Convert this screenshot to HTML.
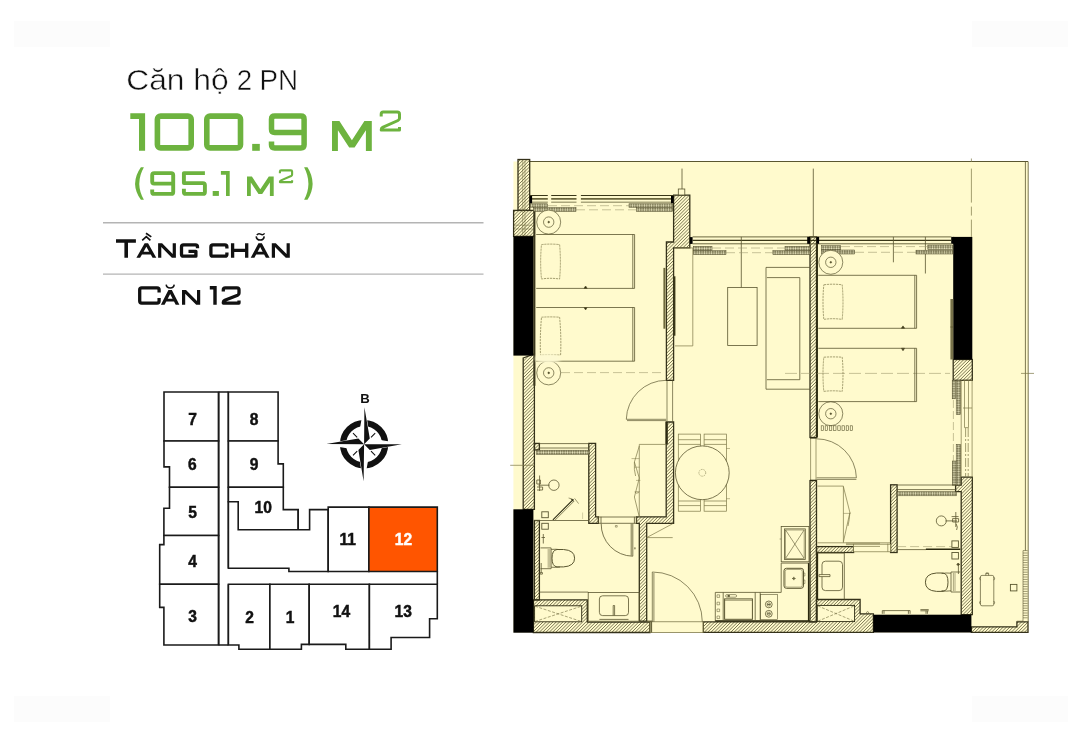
<!DOCTYPE html>
<html lang="vi">
<head>
<meta charset="utf-8">
<title>Căn hộ 2 PN - Căn 12</title>
<style>
html,body{margin:0;padding:0;background:#fff;}
body{width:1080px;height:743px;overflow:hidden;position:relative;font-family:"Liberation Sans",sans-serif;}
svg{position:absolute;left:0;top:0;display:block;will-change:transform;}
.kp{fill:#fff;stroke:#1a1a1a;stroke-width:1.6;stroke-linejoin:miter;}
.kn{font-family:"Liberation Sans",sans-serif;font-weight:bold;font-size:15.6px;fill:#111;stroke:#111;stroke-width:0.45px;text-anchor:middle;}
.g1{fill:none;stroke:#6db33f;stroke-width:6.3;stroke-linejoin:round;stroke-linecap:butt;}
.g2{fill:none;stroke:#6db33f;stroke-width:4.3;stroke-linejoin:round;stroke-linecap:butt;}
.bk{fill:none;stroke:#111;stroke-width:2.5;stroke-linejoin:round;stroke-linecap:butt;}
.ln{stroke:#5a5630;stroke-width:0.8;fill:none;}
.lt{stroke:#7c7748;stroke-width:0.7;fill:none;}
.wl{fill:url(#hatch);stroke:#2b2910;stroke-width:1;}
.blk{fill:#000;stroke:none;}
.yl{fill:#fffacd;}
</style>
</head>
<body>
<svg width="1080" height="743" viewBox="0 0 1080 743">
<defs>
<pattern id="hatch" width="2.6" height="2.6" patternUnits="userSpaceOnUse">
<rect width="2.6" height="2.6" fill="#fffacd"/>
<path d="M-0.65,0.65 L0.65,-0.65 M0,2.6 L2.6,0 M1.95,3.25 L3.25,1.95" stroke="#4e4a28" stroke-width="0.7"/>
</pattern>
<pattern id="stip" width="2.4" height="2.4" patternUnits="userSpaceOnUse">
<rect width="2.4" height="2.4" fill="#6a6642"/>
<circle cx="1.2" cy="1.2" r="0.92" fill="#f2eec9"/>
</pattern>
<filter id="blurf" x="-30%" y="-80%" width="160%" height="260%"><feGaussianBlur stdDeviation="1.6"/></filter>
</defs>

<g id="wm" fill="#fcfcfc"><rect x="14" y="21" width="96" height="26"/><rect x="972" y="21" width="96" height="26"/><rect x="14" y="696" width="96" height="26"/><rect x="972" y="696" width="96" height="26"/></g>
<!-- ============ TEXT BLOCK ============ -->
<g id="title" font-family="Liberation Sans, sans-serif" font-size="30.2" fill="#111" stroke="#fff" stroke-width="0.5">
<text x="126.3" y="90.1" textLength="58.2" lengthAdjust="spacingAndGlyphs">Căn</text>
<text x="193.3" y="90.1" textLength="35.4" lengthAdjust="spacingAndGlyphs">hộ</text>
<text x="236.8" y="90.1" textLength="15.4" lengthAdjust="spacingAndGlyphs">2</text>
<text x="259.4" y="90.1" textLength="38.6" lengthAdjust="spacingAndGlyphs">PN</text>
</g>
<line x1="103" y1="222.7" x2="483.5" y2="222.7" stroke="#b4b4b4" stroke-width="1.4"/>
<line x1="103" y1="274.1" x2="483.5" y2="274.1" stroke="#b4b4b4" stroke-width="1.4"/>

<!-- big number 100.9 m2 -->
<g id="bignum">
<path d="M130.3,113.3 H145.1 V150.8 H139 V118.9 H130.3 Z" fill="#6db33f"/>
<rect class="g1" x="157.4" y="116.1" width="33.8" height="31.8" rx="3.2" style="stroke-width:5.6"/>
<rect class="g1" x="206.8" y="116.1" width="33.7" height="31.8" rx="3.2" style="stroke-width:5.6"/>
<rect x="252.2" y="143.9" width="7.6" height="6.9" fill="#6db33f"/>
<path class="g1" style="stroke-width:5.5" d="M304.1,132.5 H274.7 Q271.5,132.5 271.5,129.3 V119.3 Q271.5,116.1 274.7,116.1 H300.9 Q304.1,116.1 304.1,119.3 V144.7 Q304.1,147.9 300.9,147.9 H274.7 Q271.5,147.9 271.5,144.7 V141.6"/>
<path d="M332,150.9 V121 H339.4 L351.9,140.3 L364.4,121 H371.8 V150.9 H365.9 V130.2 L354.6,147.6 H349.2 L337.9,130.2 V150.9 Z" fill="#6db33f"/>
<path class="g1" style="stroke-width:3" d="M381.2,116.6 V114.1 Q381.2,112.1 383.2,112.1 H397.3 Q399.5,112.1 399.5,114.3 V118.2 Q399.5,119.8 398,120.5 L382.6,127.3 Q381.2,127.9 381.2,129.9 H399.5 V127"/>
</g>
<!-- (95.1 m2) -->
<g id="subnum">
<path d="M140.9,167.2 Q129.3,183.5 140.9,199.8 L143.9,199.8 Q134.7,183.5 143.9,167.2 Z" fill="#6db33f"/>
<path class="g2" style="stroke-width:3.9" d="M173.2,183.6 H154.2 Q152.2,183.6 152.2,181.6 V175.1 Q152.2,173.1 154.2,173.1 H171.2 Q173.2,173.1 173.2,175.1 V191.9 Q173.2,193.9 171.2,193.9 H154.2 Q152.2,193.9 152.2,191.9 V189.6"/>
<path class="g2" style="stroke-width:3.9" d="M204.9,173.1 H183.9 V183.1 H202.9 Q204.9,183.1 204.9,185.1 V191.9 Q204.9,193.9 202.9,193.9 H185.9 Q183.9,193.9 183.9,191.9 V188.7"/>
<rect x="212.7" y="191" width="6.2" height="4.9" fill="#6db33f"/>
<path d="M220.9,171.1 H229.7 V195.9 H226 V174.8 H220.9 Z" fill="#6db33f"/>
<path d="M247,195.9 V176.5 H251.9 L260.3,189.3 L268.8,176.5 H273.7 V195.9 H269.9 V182.4 L262.2,194 H258.5 L250.8,182.4 V195.9 Z" fill="#6db33f"/>
<path class="g2" style="stroke-width:2.1" d="M279.9,173.2 V171.6 Q279.9,170.4 281.1,170.4 H290.9 Q292.1,170.4 292.1,171.6 V174.4 Q292.1,175.5 291.1,176 L281,180.4 Q279.9,180.9 279.9,182.1 H292.1 V180.2"/>
<path d="M307.5,167.2 Q317.7,183.5 307.5,199.8 L304.1,199.8 Q312.7,183.5 304.1,167.2 Z" fill="#6db33f"/>
</g>

<!-- TANG CHAN -->
<g id="tang" class="bk" style="stroke-width:3.3;stroke-linejoin:miter">
<path d="M116,241 H135.9 M126.2,241 V257.8" style="stroke-width:3.6"/>
<path d="M136.40,257.80 L144.65,243.30 L148.05,243.30 L156.30,257.80 L152.60,257.80 L150.73,254.50 L141.97,254.50 L140.10,257.80 Z M143.57,251.70 L146.35,246.81 L149.13,251.70 Z" fill="#111" fill-rule="evenodd" stroke="none"/>
<path d="M142.2,240.3 L146.3,236.6 L150.4,240.3" style="stroke-width:1.7"/>
<path d="M146,233.3 L151.3,236.9" style="stroke-width:1.7"/>
<path d="M158.10,257.80 L158.10,243.30 L162.10,243.30 L172.70,254.00 L172.70,243.30 L175.90,243.30 L175.90,257.80 L171.90,257.80 L161.30,247.10 L161.30,257.80 Z" fill="#111" stroke="none"/>
<path d="M197.5,248.3 V246.9 Q197.5,244.9 195.5,244.9 H183.5 Q181.5,244.9 181.5,246.9 V254.2 Q181.5,256.2 183.5,256.2 H195.9 V251.3 H188.5" style="stroke-linejoin:round"/>
<path d="M226.9,248.6 V246.9 Q226.9,244.9 224.9,244.9 H212.9 Q210.9,244.9 210.9,246.9 V254.2 Q210.9,256.2 212.9,256.2 H224.9 Q226.9,256.2 226.9,254.2 V252.5" style="stroke-linejoin:round"/>
<path d="M232.6,243.3 V257.8 M246.7,243.3 V257.8 M232.6,250.3 H246.7"/>
<path d="M250.70,257.80 L258.45,243.30 L261.85,243.30 L269.60,257.80 L265.90,257.80 L264.14,254.50 L256.16,254.50 L254.40,257.80 Z M257.66,251.70 L260.15,247.03 L262.64,251.70 Z" fill="#111" fill-rule="evenodd" stroke="none"/>
<path d="M256.2,236.3 Q256.6,240 260.2,240 Q263.8,240 264.2,236.3" style="stroke-width:1.6"/>
<path d="M256.8,235 Q258.5,232.8 260.6,234.2 Q262.8,235.6 264.6,233.4" style="stroke-width:1.4"/>
<path d="M271.80,257.80 L271.80,243.30 L275.80,243.30 L286.60,254.00 L286.60,243.30 L289.80,243.30 L289.80,257.80 L285.80,257.80 L275.00,247.10 L275.00,257.80 Z" fill="#111" stroke="none"/>
</g>
<!-- CAN 12 -->
<g id="can12" class="bk" style="stroke-width:3.3;stroke-linejoin:miter">
<path d="M159.1,292.6 V289.8 Q159.1,287.8 157.1,287.8 H141.7 Q139.7,287.8 139.7,289.8 V301.1 Q139.7,303.1 141.7,303.1 H157.1 Q159.1,303.1 159.1,301.1 V298" style="stroke-linejoin:round"/>
<path d="M160.90,304.80 L168.45,290.00 L171.85,290.00 L179.40,304.80 L175.70,304.80 L174.02,301.50 L166.28,301.50 L164.60,304.80 Z M167.71,298.70 L170.15,293.91 L172.59,298.70 Z" fill="#111" fill-rule="evenodd" stroke="none"/>
<path d="M166.2,284.6 Q166.6,288 170.2,288 Q173.8,288 174.2,284.6" style="stroke-width:1.6"/>
<path d="M182.00,304.80 L182.00,290.00 L186.00,290.00 L197.00,301.00 L197.00,290.00 L200.20,290.00 L200.20,304.80 L196.20,304.80 L185.20,293.80 L185.20,304.80 Z" fill="#111" stroke="none"/>
<path d="M209.8,287.8 H215 V304.8" style="stroke-width:3.4"/>
<path d="M223.3,291.6 V289.8 Q223.3,287.8 225.3,287.8 H237 Q239,287.8 239,289.8 V293.2 Q239,294.6 237.6,295.2 L224.8,300.2 Q223.3,300.8 223.3,303.1 H239 V300.5" style="stroke-linejoin:round"/>
</g>

<g id="keyplan">
<!-- left column units -->
<path class="kp" d="M164,392 H218.6 V441 H164 Z"/>
<path class="kp" d="M164,441 H218.6 V487.3 H169.5 V466.9 H164 Z"/>
<path class="kp" d="M169.5,487.3 H218.6 V535.5 H163.9 V508.2 H169.5 Z"/>
<path class="kp" d="M163.9,535.5 H218.6 V584.2 H159.7 V544.6 H163.9 Z"/>
<path class="kp" d="M159.7,584.2 H218.6 V645 H163.9 V607.4 H159.7 Z"/>
<!-- corridor vertical -->
<path class="kp" d="M218.6,392 H228.4 M218.6,392 V645 M228.4,392 V568.3 M228.4,584.2 V645 M218.6,645 H228.4" style="fill:none"/>
<!-- 8, 9 -->
<path class="kp" d="M228.4,392 H278.1 V441 H228.4 Z"/>
<path class="kp" d="M228.4,441 H278.1 V463.9 H283.3 V487.3 H228.4 Z"/>
<!-- 10 + courtyard -->
<path class="kp" d="M228.4,487.3 H283.3 V509.6 H298.2 V529.7 H238.2 V501.8 H228.4 Z"/>
<path class="kp" d="M228.4,501.8 H238.2 V529.7 H309.6 V509.6 H328.2 V571.5 H288.9 V568.3 H228.4 Z"/>
<path class="kp" d="M298.2,509.6 V529.7" />
<!-- 11, 12 -->
<path class="kp" d="M328.2,507.1 H368.9 V571.5 H328.2 Z"/>
<path class="kp" d="M368.9,507.1 H437.3 V571.5 H368.9 Z" style="fill:#ff5500"/>
<!-- horizontal corridor -->
<path class="kp" d="M437.3,571.5 V584.2" />
<!-- bottom row -->
<path class="kp" d="M228.4,584.2 H269.9 V649.2 H238.9 V645 H228.4 Z"/>
<path class="kp" d="M269.9,584.2 H309.2 V644.4 H301.4 V649.2 H269.9 Z"/>
<path class="kp" d="M309.2,584.2 H369.4 V649.2 H345.8 V644.4 H309.2 Z"/>
<path class="kp" d="M369.4,584.2 H437.3 V618.8 H429.6 V637.5 H391.1 V649.2 H369.4 Z"/>
<g class="kn">
<text x="192.6" y="424.6">7</text><text x="254.2" y="424.6">8</text>
<text x="192.4" y="470.4">6</text><text x="254.2" y="470.4">9</text>
<text x="192.6" y="517.8">5</text><text x="263.3" y="513.3">10</text>
<text x="192.6" y="567">4</text><text x="192.6" y="622.4">3</text>
<text x="249.5" y="622.8">2</text><text x="290" y="622.8">1</text>
<text x="341.4" y="617.3">14</text><text x="403.3" y="617.3">13</text>
<text x="347.7" y="544.6">11</text><text x="403.5" y="544.6" fill="#fff" stroke="#fff">12</text>
</g>
</g>
<g id="compass">
<circle cx="364.1" cy="444.2" r="21.1" fill="none" stroke="#111" stroke-width="6.2"/>
<path d="M371,437.3 L375.2,433.1 M371,451.1 L375.2,455.3 M357.2,451.1 L353,455.3 M357.2,437.3 L353,433.1" stroke="#111" stroke-width="1.1"/>
<path d="M364.4,407.2 L369.5,438.8 L401.8,444.2 L369.5,449.6 L363.6,481.2 L358.7,449.6 L326.4,444.1 L358.7,438.8 Z" fill="#fff" stroke="#fff" stroke-width="1.3" stroke-linejoin="miter"/>
<path d="M364.4,407.2 L369.8,438.6 L364.1,444.2 Z M401.8,444.2 L369.8,449.9 L364.1,444.2 Z M363.6,481.2 L358.4,449.9 L364.1,444.2 Z M326.4,444.1 L358.4,438.6 L364.1,444.2 Z" fill="#111"/>
<text x="365" y="403.2" font-family="Liberation Sans, sans-serif" font-weight="bold" font-size="13.2" text-anchor="middle" fill="#111">B</text>
</g>

<g id="floorplan">
<!-- base -->
<rect class="yl" x="513.4" y="161.5" width="515" height="471"/>
<path d="M529.7,161.5 H1028" stroke="#5a5630" stroke-width="1"/>
<path d="M1028.2,161.5 V621.8 M1025.4,162 V550.6" stroke="#5a5630" stroke-width="0.8" fill="none"/>
<clipPath id="wallclip"><rect x="518" y="159.5" width="11.7" height="50.9"/>
<rect x="513.6" y="210.4" width="20.8" height="26"/>
<path d="M523.2,358 L534.4,354 V509.3 H523.2 Z"/>
<rect x="534.4" y="520.5" width="5" height="79.4"/>
<path d="M533.4,599.9 H587.3 V622.1 H650 V632.5 H533.4 Z"/>
<path d="M588.8,443.4 H595.6 V516.8 H598.4 V523.3 H588.8 Z"/>
<rect x="534.4" y="443.4" width="5" height="6.5"/>
<path d="M666.2,422 H673.6 V523.3 H646.7 V621.2 H639.3 V523.3 H636.5 V516.8 H666.2 Z"/>
<path d="M673.6,195.1 H689.8 V247.9 H673.6 V380.3 H666.4 V242 H673.6 Z"/>
<rect x="810" y="236.9" width="6.5" height="200.6"/>
<rect x="810" y="480.6" width="6.5" height="141.2"/>
<rect x="953.2" y="359.5" width="19.1" height="20.8"/>
<path d="M961.2,477.2 H972.3 V614.7 H961.2 V491.7 H955.6 V485.2 H961.2 Z"/>
<rect x="890.6" y="484.8" width="6.5" height="67.7"/>
<rect x="816.5" y="546.6" width="37.1" height="5.9"/>
<path d="M816.5,599.5 H860.1 V613.8 H873.4 V632.3 H703.2 V621.8 H816.5 Z"/>
<path d="M971.4,626.8 H1016.9 V621.8 H1028 V632.3 H971.4 Z"/></clipPath>
<g fill="#fffacd" stroke="none"><rect x="518" y="159.5" width="11.7" height="50.9"/>
<rect x="513.6" y="210.4" width="20.8" height="26"/>
<path d="M523.2,358 L534.4,354 V509.3 H523.2 Z"/>
<rect x="534.4" y="520.5" width="5" height="79.4"/>
<path d="M533.4,599.9 H587.3 V622.1 H650 V632.5 H533.4 Z"/>
<path d="M588.8,443.4 H595.6 V516.8 H598.4 V523.3 H588.8 Z"/>
<rect x="534.4" y="443.4" width="5" height="6.5"/>
<path d="M666.2,422 H673.6 V523.3 H646.7 V621.2 H639.3 V523.3 H636.5 V516.8 H666.2 Z"/>
<path d="M673.6,195.1 H689.8 V247.9 H673.6 V380.3 H666.4 V242 H673.6 Z"/>
<rect x="810" y="236.9" width="6.5" height="200.6"/>
<rect x="810" y="480.6" width="6.5" height="141.2"/>
<rect x="953.2" y="359.5" width="19.1" height="20.8"/>
<path d="M961.2,477.2 H972.3 V614.7 H961.2 V491.7 H955.6 V485.2 H961.2 Z"/>
<rect x="890.6" y="484.8" width="6.5" height="67.7"/>
<rect x="816.5" y="546.6" width="37.1" height="5.9"/>
<path d="M816.5,599.5 H860.1 V613.8 H873.4 V632.3 H703.2 V621.8 H816.5 Z"/>
<path d="M971.4,626.8 H1016.9 V621.8 H1028 V632.3 H971.4 Z"/></g>
<path clip-path="url(#wallclip)" d="M512.0,161.3L515.3,158.0M512.0,164.6L518.6,158.0M512.0,167.9L521.9,158.0M512.0,171.2L525.2,158.0M512.0,174.5L528.5,158.0M512.0,177.8L531.8,158.0M512.0,181.1L535.1,158.0M512.0,184.4L538.4,158.0M512.0,187.7L541.7,158.0M512.0,191.0L545.0,158.0M512.0,194.3L548.3,158.0M512.0,197.6L551.6,158.0M512.0,200.9L554.9,158.0M512.0,204.2L558.2,158.0M512.0,207.5L561.5,158.0M512.0,210.8L564.8,158.0M512.0,214.1L568.1,158.0M512.0,217.4L571.4,158.0M512.0,220.7L574.7,158.0M512.0,224.0L578.0,158.0M512.0,227.3L581.3,158.0M512.0,230.6L584.6,158.0M512.0,233.9L587.9,158.0M512.0,237.2L591.2,158.0M512.0,240.5L594.5,158.0M512.0,243.8L597.8,158.0M512.0,247.1L601.1,158.0M512.0,250.4L604.4,158.0M512.0,253.7L607.7,158.0M512.0,257.0L611.0,158.0M512.0,260.3L614.3,158.0M512.0,263.6L617.6,158.0M512.0,266.9L620.9,158.0M512.0,270.2L624.2,158.0M512.0,273.5L627.5,158.0M512.0,276.8L630.8,158.0M512.0,280.1L634.1,158.0M512.0,283.4L637.4,158.0M512.0,286.7L640.7,158.0M512.0,290.0L644.0,158.0M512.0,293.3L647.3,158.0M512.0,296.6L650.6,158.0M512.0,299.9L653.9,158.0M512.0,303.2L657.2,158.0M512.0,306.5L660.5,158.0M512.0,309.8L663.8,158.0M512.0,313.1L667.1,158.0M512.0,316.4L670.4,158.0M512.0,319.7L673.7,158.0M512.0,323.0L677.0,158.0M512.0,326.3L680.3,158.0M512.0,329.6L683.6,158.0M512.0,332.9L686.9,158.0M512.0,336.2L690.2,158.0M512.0,339.5L693.5,158.0M512.0,342.8L696.8,158.0M512.0,346.1L700.1,158.0M512.0,349.4L703.4,158.0M512.0,352.7L706.7,158.0M512.0,356.0L710.0,158.0M512.0,359.3L713.3,158.0M512.0,362.6L716.6,158.0M512.0,365.9L719.9,158.0M512.0,369.2L723.2,158.0M512.0,372.5L726.5,158.0M512.0,375.8L729.8,158.0M512.0,379.1L733.1,158.0M512.0,382.4L736.4,158.0M512.0,385.7L739.7,158.0M512.0,389.0L743.0,158.0M512.0,392.3L746.3,158.0M512.0,395.6L749.6,158.0M512.0,398.9L752.9,158.0M512.0,402.2L756.2,158.0M512.0,405.5L759.5,158.0M512.0,408.8L762.8,158.0M512.0,412.1L766.1,158.0M512.0,415.4L769.4,158.0M512.0,418.7L772.7,158.0M512.0,422.0L776.0,158.0M512.0,425.3L779.3,158.0M512.0,428.6L782.6,158.0M512.0,431.9L785.9,158.0M512.0,435.2L789.2,158.0M512.0,438.5L792.5,158.0M512.0,441.8L795.8,158.0M512.0,445.1L799.1,158.0M512.0,448.4L802.4,158.0M512.0,451.7L805.7,158.0M512.0,455.0L809.0,158.0M512.0,458.3L812.3,158.0M512.0,461.6L815.6,158.0M512.0,464.9L818.9,158.0M512.0,468.2L822.2,158.0M512.0,471.5L825.5,158.0M512.0,474.8L828.8,158.0M512.0,478.1L832.1,158.0M512.0,481.4L835.4,158.0M512.0,484.7L838.7,158.0M512.0,488.0L842.0,158.0M512.0,491.3L845.3,158.0M512.0,494.6L848.6,158.0M512.0,497.9L851.9,158.0M512.0,501.2L855.2,158.0M512.0,504.5L858.5,158.0M512.0,507.8L861.8,158.0M512.0,511.1L865.1,158.0M512.0,514.4L868.4,158.0M512.0,517.7L871.7,158.0M512.0,521.0L875.0,158.0M512.0,524.3L878.3,158.0M512.0,527.6L881.6,158.0M512.0,530.9L884.9,158.0M512.0,534.2L888.2,158.0M512.0,537.5L891.5,158.0M512.0,540.8L894.8,158.0M512.0,544.1L898.1,158.0M512.0,547.4L901.4,158.0M512.0,550.7L904.7,158.0M512.0,554.0L908.0,158.0M512.0,557.3L911.3,158.0M512.0,560.6L914.6,158.0M512.0,563.9L917.9,158.0M512.0,567.2L921.2,158.0M512.0,570.5L924.5,158.0M512.0,573.8L927.8,158.0M512.0,577.1L931.1,158.0M512.0,580.4L934.4,158.0M512.0,583.7L937.7,158.0M512.0,587.0L941.0,158.0M512.0,590.3L944.3,158.0M512.0,593.6L947.6,158.0M512.0,596.9L950.9,158.0M512.0,600.2L954.2,158.0M512.0,603.5L957.5,158.0M512.0,606.8L960.8,158.0M512.0,610.1L964.1,158.0M512.0,613.4L967.4,158.0M512.0,616.7L970.7,158.0M512.0,620.0L974.0,158.0M512.0,623.3L977.3,158.0M512.0,626.6L980.6,158.0M512.0,629.9L983.9,158.0M512.0,633.2L987.2,158.0M514.5,634.0L990.5,158.0M517.8,634.0L993.8,158.0M521.1,634.0L997.1,158.0M524.4,634.0L1000.4,158.0M527.7,634.0L1003.7,158.0M531.0,634.0L1007.0,158.0M534.3,634.0L1010.3,158.0M537.6,634.0L1013.6,158.0M540.9,634.0L1016.9,158.0M544.2,634.0L1020.2,158.0M547.5,634.0L1023.5,158.0M550.8,634.0L1026.8,158.0M554.1,634.0L1030.0,158.1M557.4,634.0L1030.0,161.4M560.7,634.0L1030.0,164.7M564.0,634.0L1030.0,168.0M567.3,634.0L1030.0,171.3M570.6,634.0L1030.0,174.6M573.9,634.0L1030.0,177.9M577.2,634.0L1030.0,181.2M580.5,634.0L1030.0,184.5M583.8,634.0L1030.0,187.8M587.1,634.0L1030.0,191.1M590.4,634.0L1030.0,194.4M593.7,634.0L1030.0,197.7M597.0,634.0L1030.0,201.0M600.3,634.0L1030.0,204.3M603.6,634.0L1030.0,207.6M606.9,634.0L1030.0,210.9M610.2,634.0L1030.0,214.2M613.5,634.0L1030.0,217.5M616.8,634.0L1030.0,220.8M620.1,634.0L1030.0,224.1M623.4,634.0L1030.0,227.4M626.7,634.0L1030.0,230.7M630.0,634.0L1030.0,234.0M633.3,634.0L1030.0,237.3M636.6,634.0L1030.0,240.6M639.9,634.0L1030.0,243.9M643.2,634.0L1030.0,247.2M646.5,634.0L1030.0,250.5M649.8,634.0L1030.0,253.8M653.1,634.0L1030.0,257.1M656.4,634.0L1030.0,260.4M659.7,634.0L1030.0,263.7M663.0,634.0L1030.0,267.0M666.3,634.0L1030.0,270.3M669.6,634.0L1030.0,273.6M672.9,634.0L1030.0,276.9M676.2,634.0L1030.0,280.2M679.5,634.0L1030.0,283.5M682.8,634.0L1030.0,286.8M686.1,634.0L1030.0,290.1M689.4,634.0L1030.0,293.4M692.7,634.0L1030.0,296.7M696.0,634.0L1030.0,300.0M699.3,634.0L1030.0,303.3M702.6,634.0L1030.0,306.6M705.9,634.0L1030.0,309.9M709.2,634.0L1030.0,313.2M712.5,634.0L1030.0,316.5M715.8,634.0L1030.0,319.8M719.1,634.0L1030.0,323.1M722.4,634.0L1030.0,326.4M725.7,634.0L1030.0,329.7M729.0,634.0L1030.0,333.0M732.3,634.0L1030.0,336.3M735.6,634.0L1030.0,339.6M738.9,634.0L1030.0,342.9M742.2,634.0L1030.0,346.2M745.5,634.0L1030.0,349.5M748.8,634.0L1030.0,352.8M752.1,634.0L1030.0,356.1M755.4,634.0L1030.0,359.4M758.7,634.0L1030.0,362.7M762.0,634.0L1030.0,366.0M765.3,634.0L1030.0,369.3M768.6,634.0L1030.0,372.6M771.9,634.0L1030.0,375.9M775.2,634.0L1030.0,379.2M778.5,634.0L1030.0,382.5M781.8,634.0L1030.0,385.8M785.1,634.0L1030.0,389.1M788.4,634.0L1030.0,392.4M791.7,634.0L1030.0,395.7M795.0,634.0L1030.0,399.0M798.3,634.0L1030.0,402.3M801.6,634.0L1030.0,405.6M804.9,634.0L1030.0,408.9M808.2,634.0L1030.0,412.2M811.5,634.0L1030.0,415.5M814.8,634.0L1030.0,418.8M818.1,634.0L1030.0,422.1M821.4,634.0L1030.0,425.4M824.7,634.0L1030.0,428.7M828.0,634.0L1030.0,432.0M831.3,634.0L1030.0,435.3M834.6,634.0L1030.0,438.6M837.9,634.0L1030.0,441.9M841.2,634.0L1030.0,445.2M844.5,634.0L1030.0,448.5M847.8,634.0L1030.0,451.8M851.1,634.0L1030.0,455.1M854.4,634.0L1030.0,458.4M857.7,634.0L1030.0,461.7M861.0,634.0L1030.0,465.0M864.3,634.0L1030.0,468.3M867.6,634.0L1030.0,471.6M870.9,634.0L1030.0,474.9M874.2,634.0L1030.0,478.2M877.5,634.0L1030.0,481.5M880.8,634.0L1030.0,484.8M884.1,634.0L1030.0,488.1M887.4,634.0L1030.0,491.4M890.7,634.0L1030.0,494.7M894.0,634.0L1030.0,498.0M897.3,634.0L1030.0,501.3M900.6,634.0L1030.0,504.6M903.9,634.0L1030.0,507.9M907.2,634.0L1030.0,511.2M910.5,634.0L1030.0,514.5M913.8,634.0L1030.0,517.8M917.1,634.0L1030.0,521.1M920.4,634.0L1030.0,524.4M923.7,634.0L1030.0,527.7M927.0,634.0L1030.0,531.0M930.3,634.0L1030.0,534.3M933.6,634.0L1030.0,537.6M936.9,634.0L1030.0,540.9M940.2,634.0L1030.0,544.2M943.5,634.0L1030.0,547.5M946.8,634.0L1030.0,550.8M950.1,634.0L1030.0,554.1M953.4,634.0L1030.0,557.4M956.7,634.0L1030.0,560.7M960.0,634.0L1030.0,564.0M963.3,634.0L1030.0,567.3M966.6,634.0L1030.0,570.6M969.9,634.0L1030.0,573.9M973.2,634.0L1030.0,577.2M976.5,634.0L1030.0,580.5M979.8,634.0L1030.0,583.8M983.1,634.0L1030.0,587.1M986.4,634.0L1030.0,590.4M989.7,634.0L1030.0,593.7M993.0,634.0L1030.0,597.0M996.3,634.0L1030.0,600.3M999.6,634.0L1030.0,603.6M1002.9,634.0L1030.0,606.9M1006.2,634.0L1030.0,610.2M1009.5,634.0L1030.0,613.5M1012.8,634.0L1030.0,616.8M1016.1,634.0L1030.0,620.1M1019.4,634.0L1030.0,623.4M1022.7,634.0L1030.0,626.7M1026.0,634.0L1030.0,630.0M1029.3,634.0L1030.0,633.3" stroke="#5c5835" stroke-width="0.8" fill="none"/>
<g fill="none" stroke="#35321a" stroke-width="1.3"><rect x="518" y="159.5" width="11.7" height="50.9"/>
<rect x="513.6" y="210.4" width="20.8" height="26"/>
<path d="M523.2,358 L534.4,354 V509.3 H523.2 Z"/>
<rect x="534.4" y="520.5" width="5" height="79.4"/>
<path d="M533.4,599.9 H587.3 V622.1 H650 V632.5 H533.4 Z"/>
<path d="M588.8,443.4 H595.6 V516.8 H598.4 V523.3 H588.8 Z"/>
<rect x="534.4" y="443.4" width="5" height="6.5"/>
<path d="M666.2,422 H673.6 V523.3 H646.7 V621.2 H639.3 V523.3 H636.5 V516.8 H666.2 Z"/>
<path d="M673.6,195.1 H689.8 V247.9 H673.6 V380.3 H666.4 V242 H673.6 Z"/>
<rect x="810" y="236.9" width="6.5" height="200.6"/>
<rect x="810" y="480.6" width="6.5" height="141.2"/>
<rect x="953.2" y="359.5" width="19.1" height="20.8"/>
<path d="M961.2,477.2 H972.3 V614.7 H961.2 V491.7 H955.6 V485.2 H961.2 Z"/>
<rect x="890.6" y="484.8" width="6.5" height="67.7"/>
<rect x="816.5" y="546.6" width="37.1" height="5.9"/>
<path d="M816.5,599.5 H860.1 V613.8 H873.4 V632.3 H703.2 V621.8 H816.5 Z"/>
<path d="M971.4,626.8 H1016.9 V621.8 H1028 V632.3 H971.4 Z"/></g>
<!-- shaft inner boxes -->
<rect x="534.6" y="605.8" width="47.1" height="16" fill="#fffacd" stroke="#2b2910" stroke-width="0.9"/>
<path d="M535,606.2 L581.4,621.5 M535,621.5 L581.4,606.2" stroke="#6f6a3c" stroke-width="0.6" stroke-dasharray="3 1.5" fill="none"/>
<rect x="817.3" y="605.4" width="37.3" height="16.2" fill="#fffacd" stroke="#2b2910" stroke-width="0.9"/>
<path d="M817.8,605.9 L854.2,621.2 M817.8,621.2 L854.2,605.9" stroke="#6f6a3c" stroke-width="0.6" stroke-dasharray="3 1.5" fill="none"/>
<!-- ===== black walls ===== -->
<rect class="blk" x="513.4" y="236.4" width="20.2" height="119.2"/>
<path d="M534.4,210.4 V385.8" stroke="#3a361c" stroke-width="2"/>
<rect class="blk" x="513.4" y="509.3" width="20" height="123.4"/>
<rect class="blk" x="953.2" y="236.9" width="19.1" height="122.6"/>
<rect class="blk" x="951.2" y="236.9" width="3" height="6.9"/>
<rect class="blk" x="873.4" y="614.7" width="98" height="17.8"/>
<!-- ===== windows ===== -->
<g id="windows">
<!-- bedroom 1 window -->
<path d="M529.7,195.5 H673.6" stroke="#3a3718" stroke-width="1"/>
<path d="M532,198.9 H671" stroke="#6a663c" stroke-width="1.8"/>
<path d="M532,202.2 H671" stroke="#aaa67c" stroke-width="1.6"/>
<rect class="blk" x="529.7" y="196" width="2.4" height="7.4"/>
<rect class="blk" x="671" y="196" width="2.6" height="7.4"/>
<rect x="547.8" y="194.5" width="3.4" height="11" fill="#fffacd"/>
<rect x="576.5" y="194.5" width="4.4" height="11" fill="#fffacd"/>
<!-- living + bed2 window -->
<path d="M692.6,236.9 H951.4 M692.6,243.8 H951.4" class="ln" style="stroke-width:0.9"/>
<path d="M692.6,240.4 H951.4" stroke="#3a3718" stroke-width="1.3"/>
<rect class="blk" x="689.8" y="237.1" width="2.8" height="6.8"/>
<rect class="blk" x="807.2" y="236.9" width="2.8" height="6.9"/>
<rect class="blk" x="816.5" y="236.9" width="2.6" height="6.9"/>
<path d="M817.2,243.8 V437.5 M817.4,553 V600" stroke="#2b2910" stroke-width="1.5"/>
<!-- mullions -->
<path d="M741.3,236.9 V287.4 M813.3,168.6 V236.9 M893.4,236.9 V262.3 M925.4,236.9 V273.5 M682,168.6 V189" class="ln" style="stroke-width:0.8"/>
<rect x="678.3" y="189" width="6.5" height="6" class="ln" style="fill:#fffacd"/>
<path d="M971.4,168.6 V236.9" class="lt" stroke-dasharray="34 4 9 4"/><path d="M971.4,158.5 V162" class="lt"/>
</g>
<!-- ===== curtains ===== -->
<g id="curtains" fill="url(#stip)" stroke="#4a4626" stroke-width="0.5">
<rect x="530.6" y="203.8" width="16.8" height="3.4"/><rect x="533.4" y="207.4" width="42.6" height="4"/>
<rect x="629" y="203.8" width="43.7" height="3.6"/><rect x="636.5" y="207.4" width="36.2" height="4"/>
<rect x="693.4" y="246.3" width="18.6" height="4.3"/><rect x="693.4" y="250.6" width="32.6" height="4"/>
<rect x="785" y="246.3" width="25" height="4.3"/><rect x="772.9" y="250.6" width="37.1" height="4"/>
<rect x="821.5" y="245.6" width="19.1" height="4.4"/><rect x="821.5" y="250" width="33.1" height="4"/>
<rect x="927.8" y="245" width="25.2" height="4.4"/><rect x="916" y="250.2" width="37" height="3.8"/>
<!-- vertical curtain bedroom 2 -->
<rect x="956.2" y="380.3" width="4.2" height="34.3"/><rect x="952.2" y="380.3" width="3.2" height="18.5"/>
<rect x="956.2" y="444.5" width="4.4" height="40.7"/><rect x="952.3" y="461" width="4.5" height="24.2"/>
<!-- shower stipple bands -->
<rect x="536.2" y="450.2" width="52.8" height="4.2"/>
<rect x="897.1" y="491.7" width="59.5" height="4.1"/>
</g>
<g id="dashes" stroke="#98946a" stroke-width="0.55" fill="none" stroke-dasharray="9 4">
<path d="M548,205.7 H629 M576,209.8 H636"/>
<path d="M712,248 H785 M726,252.7 H773"/>
<path d="M841,246.6 H928 M855,252.3 H916"/>
<path d="M561,372.6 H665"/>
<path d="M785,373.4 H950" stroke-dasharray="12 4"/>
<path d="M953.4,400 V462" stroke-dasharray="8 3"/>
<path d="M897.1,546.6 H951.9" />
</g>
<!-- bedroom2 side window (vertical) -->
<g class="lt">
<path d="M961.2,380.3 V477.2 M972.1,380.3 V477.2"/><path d="M964.5,380.3 V427.6 M968.5,380.3 V427.6 M964.5,427.6 H968.5"/><path d="M965.6,428 V477.2 M968.2,428 V477.2" stroke-dasharray="9 2 2 2"/>
<path d="M963,408 H972 M963,380.3 H972" />
<path d="M1021,373.4 H1034" />
</g>
<!-- ===== wall panels (tv) ===== -->
<rect x="663.4" y="267.9" width="2" height="60.8" fill="#6f6a3c"/>
<rect x="673.8" y="276.3" width="1.6" height="59.4" fill="#3a3718"/>
<rect x="950.4" y="299" width="2.8" height="60.5" fill="#77724a"/>
<path d="M950.4,327 H953" class="ln"/>
<!-- tv cabinet -->
<path d="M675,247.9 H692.8 V345.9 H675" class="lt" style="fill:none"/>
<!-- ===== lamps ===== -->
<g class="ln" style="stroke-width:0.7;fill:#fffacd">
<circle cx="548.7" cy="222.1" r="12"/><circle cx="548.7" cy="222.1" r="5.2"/><circle cx="548.7" cy="222.1" r="0.8" style="fill:#3a3718"/>
<circle cx="548.7" cy="372.9" r="12"/><circle cx="548.7" cy="372.9" r="5.2"/><circle cx="548.7" cy="372.9" r="0.8" style="fill:#3a3718"/>
<circle cx="830.8" cy="262.3" r="12"/><circle cx="830.8" cy="262.3" r="5.2"/><circle cx="830.8" cy="262.3" r="0.8" style="fill:#3a3718"/>
<circle cx="830.8" cy="413.7" r="12"/><circle cx="830.8" cy="413.7" r="5.2"/><circle cx="830.8" cy="413.7" r="0.8" style="fill:#3a3718"/>
</g>
<!-- ===== beds ===== -->
<g class="ln" style="stroke-width:0.8">
<path d="M536.2,234.5 H634.6 V288.4 H536.2 M632.8,234.5 V288.4"/>
<path d="M536.2,307.5 H634.6 V361.2 H536.2 M632.8,307.5 V361.2"/>
<path d="M818.3,275.3 H916.6 V328.3 H818.3 M914.8,275.3 V328.3"/>
<path d="M818.3,348.3 H916.6 V401.6 H818.3 M914.8,348.3 V401.6"/>
<path d="M584,288.4 l1.6,-2.4 l1.6,2.4 Z M584,307.5 l1.6,2.4 l1.6,-2.4 Z M901.4,328.3 l1.6,-2.4 l1.6,2.4 Z M901.4,348.3 l1.6,2.4 l1.6,-2.4 Z" style="fill:#2b2910"/>
</g>
<g class="lt" stroke-dasharray="2.2 0.8" style="stroke-width:0.7">
<path d="M541.5,244.6 Q550,243.6 559.6,244.6 Q561.2,262 559.6,279 Q550,277.6 541.5,279 Q539.8,262 541.5,244.6 Z"/>
<path d="M541.5,317.2 Q550,316.6 559.6,317.2 Q561.4,336 560.6,355 Q550,354.4 540.5,355 Q539.8,336 541.5,317.2 Z"/>
<path d="M823.8,284.8 Q833,283.6 842.2,284.8 Q843.8,302 842.2,319.4 Q833,318 823.8,319.4 Q822.2,302 823.8,284.8 Z"/>
<path d="M823.8,357.2 Q833,356.6 842.2,357.2 Q843.8,374 842.2,391.4 Q833,390.2 823.8,391.4 Q822.2,374 823.8,357.2 Z"/>
</g>
<!-- row of small rects under lamp 4 -->
<g class="ln" style="stroke-width:0.6">
<rect x="821.2" y="425.8" width="2.4" height="4.6"/><rect x="825.2" y="425.8" width="2.4" height="4.6"/><rect x="829.4" y="425.8" width="2.4" height="4.6"/><rect x="833.6" y="425.8" width="2.4" height="4.6"/><rect x="837.8" y="425.8" width="2.4" height="4.6"/><rect x="842" y="425.8" width="2.4" height="4.6"/><rect x="846.2" y="425.8" width="2.4" height="4.6"/><rect x="850.2" y="425.8" width="2.4" height="4.6"/>
</g>
<!-- ===== living: pendant + sofa ===== -->
<g class="ln" style="stroke-width:0.8">
<rect x="727.7" y="287.4" width="29.4" height="58"/>
<path d="M766,267.4 H810 M766,267.4 V389.2 H810"/>
<path d="M766.9,277.6 H799.8 V379.7 H766.9"/>
</g>


<!-- ===== bedroom1 door ===== -->
<g class="ln" style="stroke-width:0.7">
<path d="M666.2,380.3 A40,40 0 0 0 626.3,419.3"/>
<path d="M626.3,419.3 H666.2 M627,420.6 H666.2"/>
<path d="M667,380.3 V422 M672.6,380.3 V422"/>
</g>
<rect x="665.6" y="422" width="2.2" height="22.4" fill="#2b2910"/>
<!-- tick mark left wall -->
<path d="M510.2,465.3 H534.4" class="lt"/>
<!-- ===== shower room 1 ===== -->
<g class="ln" style="stroke-width:0.8">
<path d="M539.4,443.6 H588.8 M539.4,448 H588.8"/>
<path d="M534.4,520.5 H588.8"/>
<circle cx="553.9" cy="485.2" r="5.2"/>
<path d="M538.5,485.2 H549.5 M539.6,475.5 V491 M536.8,480 h3.6 v4 h-3.6 Z M537,487 h5.6 v3 h-5.6"/>
<path d="M552.9,519.8 L572.6,500.1" style="stroke-width:1.1;stroke:#2b2910"/><path d="M554.9,520.3 L574.2,501" style="stroke-width:0.7"/><path d="M570.6,499 l3.2,0.2 l-0.6,2.6 Z" style="fill:#2b2910;stroke:none"/><path d="M568.6,498 L572.4,499 M574.6,498.4 L578.6,503.6" style="stroke-width:0.6"/>
<path d="M582.6,512.5 V519" stroke="#a8a47a" stroke-width="0.5"/>
<rect x="541.8" y="511.8" width="6.5" height="5.9" style="stroke-width:0.9"/>
<rect x="541.8" y="523.3" width="6.5" height="5.9" style="stroke-width:0.9"/>
</g>
<!-- ===== toilet room 1 ===== -->
<g class="ln" style="stroke-width:0.8">
<path d="M539.4,592.1 H588.2"/>
<rect x="588.2" y="592.4" width="51.1" height="28.8"/>
<rect x="599.4" y="595.8" width="29.1" height="19.8" rx="3.2"/>
<path d="M613.2,605.5 V615.5 M614.6,605.5 V615.5 M613.2,605.5 H614.6" />
<path d="M599.4,619.4 H628.5"/>
<!-- toilet -->
<path d="M540.5,547.9 H551.1 V568.7 H540.5"/>
<path d="M548.2,549 V567.8 M549.8,549 V567.8" style="stroke-width:0.5"/>
<path d="M557,549.5 Q552,550 552,558.2 Q552,566.4 557,566.9 L563.5,566.9 Q574.6,566.2 574.6,558.2 Q574.6,550.2 563.5,549.5 Z" style="stroke-width:1"/>
<path d="M551.1,549.4 Q556,549 560,549.6 M551.1,567.2 Q556,567.6 560,567" />
<path d="M543.3,534 V543.5 M541.5,537.5 H545" />
<path d="M541.2,563 V572 M540.2,572.5 h2.2 v1.6 h-2.2 Z"/>
<!-- door -->
<path d="M632.8,523.7 V556.2 M631.2,523.7 V555.6"/>
<path d="M601.2,523.7 A32,32 0 0 0 632.8,556.2"/>
<path d="M598.4,516.8 V523.3 M601,516.8 V523.3 M634.4,516.8 V523.3 M636.5,516.8 V523.3 M598.4,517 H636.5 M598.4,523.3 H636.5"/>
<path d="M615.4,525.5 h1.8 v1.6 h-1.8 Z M634,548.3 h1.8 M634.9,547 v2.6" style="stroke-width:0.5"/>
</g>
<!-- ===== wardrobe 1 ===== -->
<g class="lt">
<path d="M639.3,444.4 H666.2 M639.3,444.4 V516.8"/>
<path d="M639.3,446 L634.4,462 L639.3,478 M639.3,478 L634.4,497 L639.3,516.8 M634.4,462 Q633.8,470 635.6,476 M634.6,492 Q636,494 639,492.5" />
<path d="M631.5,458.6 H639.3 M634.5,467.2 H639.8 M636,480.4 H640.4 M635,491.6 H639.6" style="stroke-width:0.5"/>
</g>
<!-- ===== entrance ===== -->
<g class="ln" style="stroke-width:0.7">
<path d="M646.7,537.6 H672.7 M646.7,537.6 L672.7,523.7" class="lt"/>
<rect x="650" y="621.8" width="53.2" height="10.7" style="fill:#fffacd;stroke:#6f6a3c"/>
<path d="M652.3,572 V621.8 M653.9,573 V621.8"/>
<path d="M652.3,572 A50,50 0 0 1 702.3,621.8"/>
<path d="M650,622 V632.5 M651.6,622 V632.5 M703.2,622 V632.5" style="stroke-width:1"/>
<path d="M646.7,621.2 H652.3" style="stroke-width:1.2"/>
</g>
<!-- ===== dining ===== -->
<g class="lt" style="stroke-width:0.7">
<rect x="678.3" y="434.1" width="22.1" height="77.1"/>
<rect x="704.1" y="434.1" width="22.3" height="77.1"/>
<path d="M678.3,439.7 H700.4 M678.3,444.4 H700.4 M704.1,439.7 H726.4 M704.1,444.4 H726.4 M678.3,501 H700.4 M678.3,505.6 H700.4 M704.1,501 H726.4 M704.1,505.6 H726.4"/>
<path d="M726.4,448.5 H730 M726.4,498.7 H730" style="stroke-width:0.5"/>
</g>
<circle cx="702.3" cy="472.8" r="26.9" class="ln" style="fill:#fffacd;stroke-width:0.8"/>
<circle cx="702.3" cy="472.8" r="3.4" class="lt" stroke-dasharray="1.4 1" style="stroke-width:0.6"/>
<!-- ===== kitchen ===== -->
<g class="ln" style="stroke-width:0.8">
<path d="M715.3,621.2 V592.4 H781.2 V563.1 H809 M715.3,621.2 H809" />
<path d="M715.3,621 H810" style="stroke-width:1.6;stroke:#2b2910"/>
<path d="M808.6,563.1 V621" style="stroke-width:1.4;stroke:#2b2910"/>
<!-- fridge -->
<rect x="781.2" y="526.5" width="27.8" height="35.3"/>
<rect x="784.4" y="528.9" width="20.9" height="30.5"/>
<rect x="785.6" y="530" width="18.5" height="28.3" style="stroke-width:0.5"/>
<path d="M785.6,530 L804.1,558.3 M804.1,530 L785.6,558.3" style="stroke-width:0.6"/>
<path d="M779.6,539 h1.6" style="stroke-width:0.5"/>
<!-- sink -->
<rect x="784" y="568.3" width="19.5" height="20" rx="2.4" style="stroke-width:1"/>
<rect x="785.2" y="569.5" width="17.1" height="17.6" rx="1.8" style="stroke-width:0.5"/>
<path d="M792,578.5 h3.6 M793.8,576.8 v3.4" style="stroke-width:0.7"/>
<circle cx="793.8" cy="578.5" r="1" style="stroke-width:0.5"/>
<path d="M803.5,573 h1.4 v3 h-1.4 M803.5,580 h1.4 v3.6 h-1.4" style="stroke-width:0.5"/>
<!-- oven -->
<path d="M755.2,592.4 V621.2 M723.2,592.4 V621.2" />
<rect x="724.6" y="598.9" width="27.8" height="20.4" style="stroke-width:1"/>
<path d="M724.6,600.4 H752.4" style="stroke-width:0.5"/>
<rect x="725.6" y="594.6" width="11" height="2.6" rx="1.3" style="stroke-width:0.6"/>
<rect x="727.6" y="595.1" width="2.2" height="1.7" style="fill:#4a4624;stroke:none"/>
<path d="M717,594.8 h2.6 v2.6 h-2.6 Z M717,602.2 h2.6 v2.6 h-2.6 Z M717,609 h2.6 v2.6 h-2.6 Z M717,616 h2.6 v2.6 h-2.6 Z" style="stroke-width:0.5"/>
<!-- hob -->
<path d="M760.2,592.4 V621.2"/>
<rect x="760.4" y="594.3" width="17.1" height="25" style="stroke-width:0.6"/>
<circle cx="768.8" cy="604.4" r="3.4" style="stroke-width:0.8"/><circle cx="768.8" cy="604.4" r="1.7" style="stroke-width:0.6"/>
<circle cx="768.8" cy="613.8" r="3.4" style="stroke-width:0.8"/><circle cx="768.8" cy="613.8" r="1.7" style="stroke-width:0.6"/>
<path d="M767.3,604.4 h3 M767.3,613.8 h3" style="stroke-width:0.8;stroke:#2b2910"/>
</g>

<!-- ===== bedroom 2 door ===== -->
<g class="ln" style="stroke-width:0.7">
<path d="M816.5,438.8 A39.9,39.9 0 0 1 856.4,477.8"/>
<path d="M816.5,477.8 H856.4 M816.5,479.4 H856.4"/>
<path d="M810.6,437.5 V480.6 M816,437.5 V480.6" class="lt"/>
<path d="M810,437.8 H816.5 M810,480.4 H816.5" style="stroke-width:1.3;stroke:#2b2910"/>
</g>
<!-- ===== wardrobe 2 ===== -->
<g class="lt">
<path d="M817.4,486.1 H843.4 V542.8"/>
<path d="M843.4,486.6 L849.9,512.5 L843.4,541.8 M849.9,512.5 Q849.4,520 848,526"/>
<path d="M843.4,513.4 H850.6" style="stroke-width:0.5"/>
<path d="M817.4,542.8 H890.6 M846,543.2 H880 M846,544.6 H880"/>
</g>
<!-- sliding door between wardrobe and bath -->
<rect x="853.6" y="544.2" width="37" height="7.6" class="lt" style="fill:#fffacd"/>
<path d="M853.6,546.4 H880 M887.8,543.6 V551.8" class="lt"/>
<!-- ===== bathroom 2 (shower + wc) ===== -->
<g class="ln" style="stroke-width:0.8">
<path d="M897.1,485 H955.6 M897.1,489.6 H955.6"/>
<circle cx="941.3" cy="520.9" r="5"/>
<path d="M945.5,520.9 H957 M955.8,512 V527 M951.6,516.6 h7 M952.6,518.6 h6 v3.4 h-6 Z M956.2,524 q2,3 0.4,6" />
<rect x="951.9" y="540.9" width="6.5" height="6.5" style="stroke-width:0.9"/>
<rect x="951.9" y="552.5" width="6.5" height="6.5" style="stroke-width:0.9"/>
<path d="M897.1,549.6 H926"/><path d="M925.9,549.3 H960.3" style="stroke-width:1.5;stroke:#2b2910"/>
<!-- vanity 2 -->
<path d="M817.4,553 H844.3 V599.5"/>
<rect x="822" y="561.2" width="20.5" height="29.4" rx="3.4"/>
<path d="M819,574.6 h11 v2 h-11 Z" style="fill:#fffacd"/>
<!-- toilet 2 -->
<path d="M960.3,572 H951 V592 H960.3"/>
<path d="M953.4,573 V591 M955,573 V591" style="stroke-width:0.5"/>
<path d="M943,573 Q948,573.6 948,582.2 Q948,590.8 943,591.4 L936.5,591.4 Q925.4,590.6 925.4,582.2 Q925.4,573.8 936.5,573 Z" style="stroke-width:1"/>
<path d="M951,573.2 Q946,572.6 941.6,573.6 M951,590.8 Q946,591.6 941.6,590.6"/>
<path d="M958.4,564 V574 M956.6,564.6 q1.6,-1.6 3.2,0"/>
<circle cx="958.2" cy="564.4" r="1" style="fill:#4a4624"/>
<!-- bottom fixtures -->
<path d="M882.3,613.8 V610.6 H910.1 V613.8 M884,610.6 V613.8 M908.4,610.6 V613.8"/>
<path d="M920.4,609.6 H928.7 M920.4,610.8 H928.7 M926,610.8 V613.8 M927.4,610.8 V613.8"/>
<path d="M866.6,613.8 v-1.6 q1,-1.4 2,0 v1.6" style="stroke-width:0.6"/>
</g>
<!-- ===== balcony ===== -->
<g class="ln" style="stroke-width:0.7">
<rect x="980.4" y="575.4" width="13.4" height="30.4" rx="1.6"/>
<path d="M980.4,577 q-1.6,1.6 0,3.2 M993.8,577 q1.6,1.6 0,3.2 M980.4,601 q-1.6,1.6 0,3.2 M993.8,601 q1.6,1.6 0,3.2"/>
<path d="M985.8,575.4 v-2.2 h2.8 v2.2 M986,573.2 h2.4" />
<rect x="1010.4" y="584.4" width="6.5" height="6.5" style="stroke-width:0.9"/>
</g>
<!-- railing ladder -->
<g class="ln" style="stroke-width:0.6">
<path d="M1023,550.6 H1027.6 M1023,550.6 V621.2 M1023,621.2 H1016.9"/>
<path d="M1023,553 H1027.6 M1023,555.4 H1027.6 M1023,557.8 H1027.6 M1023,560.2 H1027.6 M1023,562.6 H1027.6 M1023,565 H1027.6 M1023,567.4 H1027.6 M1023,569.8 H1027.6 M1023,572.2 H1027.6 M1023,574.6 H1027.6 M1023,577 H1027.6 M1023,579.4 H1027.6 M1023,581.8 H1027.6 M1023,584.2 H1027.6 M1023,586.6 H1027.6 M1023,589 H1027.6 M1023,591.4 H1027.6 M1023,593.8 H1027.6 M1023,596.2 H1027.6 M1023,598.6 H1027.6 M1023,601 H1027.6 M1023,603.4 H1027.6 M1023,605.8 H1027.6 M1023,608.2 H1027.6 M1023,610.6 H1027.6 M1023,613 H1027.6 M1023,615.4 H1027.6 M1023,617.8 H1027.6"/>
</g>

<ellipse cx="548" cy="358.6" rx="13" ry="4.6" fill="#fdf9d2" filter="url(#blurf)"/>
<path d="M522.7,161 V236 M525,161 V236 M514,225.2 H534 M514,229 H534" stroke="#6f6a3c" stroke-width="0.5" fill="none"/>
</g>

</svg>
</body>
</html>
